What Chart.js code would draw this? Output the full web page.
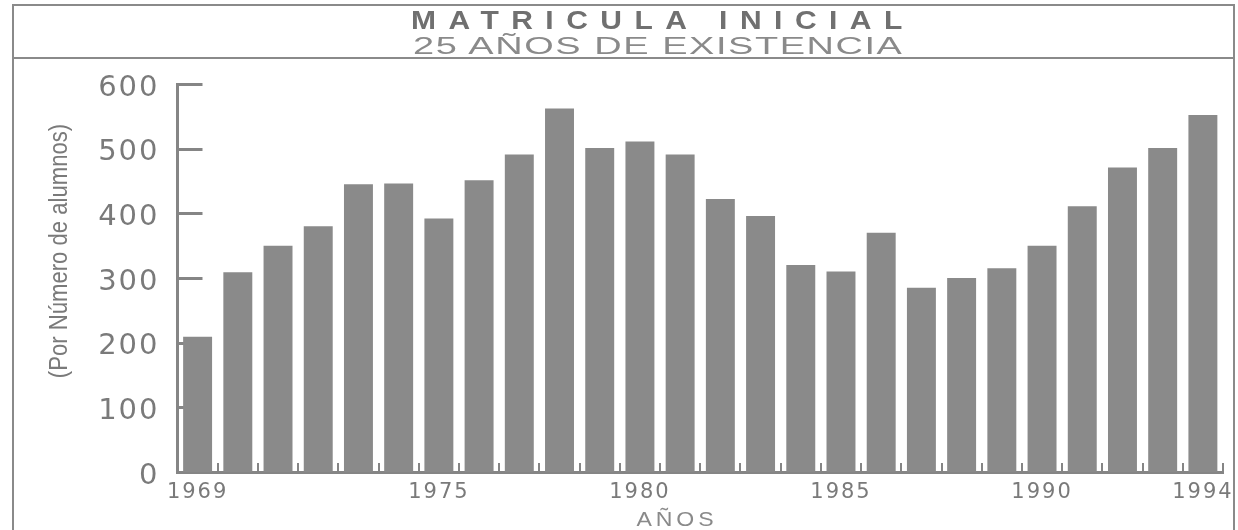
<!DOCTYPE html>
<html>
<head>
<meta charset="utf-8">
<script src="https://cdn.jsdelivr.net/npm/chart.js@4.4.1/dist/chart.umd.min.js"></script>
<style>
  html, body { margin: 0; padding: 0; background: #fff; }
  body { width: 1238px; height: 530px; position: relative; overflow: hidden; }
  #chart { position: absolute; left: 0; top: 0; }
  .frame { position: absolute; left: 12px; top: 4px; width: 1219px; height: 600px;
           border: 2px solid #8a8a8a; pointer-events: none; }
  .divider { position: absolute; left: 12px; top: 57px; width: 1223px; height: 0;
             border-top: 2px solid #8a8a8a; pointer-events: none; }
  .t1, .t2 { position: absolute; left: 0; width: 1316px; text-align: center; line-height: 1;
             font-family: "Liberation Sans", Arial, sans-serif; white-space: nowrap; }
  .t1 span, .t2 span { display: inline-block; transform-origin: 50% 50%; }
  .t1 { top: 8px; font-size: 25px; font-weight: bold; color: #707070; }
  .t1 span { letter-spacing: 10.4px; margin-right: -10.4px; transform: scaleX(1.2); }
  .t2 { top: 34px; font-size: 24px; color: #8a8a8a; }
  .t2 span { letter-spacing: 1px; margin-right: -1px; transform: scaleX(1.58); }
  .ytitle { position: absolute; left: 58px; top: 251px;
            transform: translate(-50%, -50%) rotate(-90deg) scaleX(0.85);
            font-family: "Liberation Sans", Arial, sans-serif; font-size: 26px; color: #7a7a7a;
            white-space: nowrap; line-height: 1; }
  .xtitle { position: absolute; left: 677px; top: 518px; transform: translate(-50%, -50%) scaleX(1.1);
            font-family: "Liberation Sans", Arial, sans-serif; font-size: 21px; color: #8a8a8a;
            letter-spacing: 3.5px; white-space: nowrap; line-height: 1; }
</style>
</head>
<body>
<canvas id="chart" width="1238" height="530"></canvas>
<div class="frame"></div>
<div class="divider"></div>
<div class="t1"><span>MATRICULA INICIAL</span></div>
<div class="t2"><span>25 AÑOS DE EXISTENCIA</span></div>
<div class="ytitle">(Por Número de alumnos)</div>
<div class="xtitle">AÑOS</div>
<script>
// ---- data ----
const years = ['1969','1970','1971','1972','1973','1974','1975','1976','1977','1978','1979','1980','1981',
               '1982','1983','1984','1985','1986','1987','1988','1989','1990','1991','1992','1993','1994'];
const students = [209, 309, 350, 380, 445, 446, 392, 451, 491, 562, 501, 511, 491,
                  422, 396, 320, 310, 370, 285, 300, 315, 350, 411, 471, 501, 552];
const yearTickLabels = ['1969','1975','1980','1985','1990','1994'];
const valueTicks = [0, 100, 200, 300, 400, 500, 600];

const BAR = '#8a8a8a';
const AXIS = '#858585';
const TEXT = '#7a7a7a';

const axisMarks = {
  id: 'axisMarks',
  beforeDraw(chart) {
    chart.ctx.letterSpacing = '2px';
  },
  beforeDatasetsDraw(chart) {
    const { ctx, chartArea, scales: { y } } = chart;
    ctx.save();
    ctx.strokeStyle = AXIS;
    ctx.lineWidth = 3;
    valueTicks.forEach(v => {
      if (v === 0) return;
      const py = Math.round(y.getPixelForValue(v)) + 0.5;
      ctx.beginPath();
      ctx.moveTo(chartArea.left, py);
      ctx.lineTo(chartArea.left + 25, py);
      ctx.stroke();
    });
    ctx.restore();
  },
  afterDatasetsDraw(chart) {
    const { ctx, chartArea, scales: { x } } = chart;
    ctx.save();
    ctx.strokeStyle = AXIS;
    ctx.lineWidth = 2;
    for (let i = 1; i <= years.length; i++) {
      const px = Math.round(x.getPixelForValue(i - 0.5));
      ctx.beginPath();
      ctx.moveTo(px, chartArea.bottom);
      ctx.lineTo(px, chartArea.bottom - 9);
      ctx.stroke();
    }
    ctx.restore();
  },
  afterDraw(chart) {
    chart.ctx.letterSpacing = '0px';
  }
};

new Chart(document.getElementById('chart'), {
  type: 'bar',
  data: {
    labels: years,
    datasets: [{
      data: students,
      backgroundColor: BAR,
      borderWidth: 0,
      barPercentage: 0.72,
      categoryPercentage: 1.0
    }]
  },
  options: {
    responsive: false,
    animation: false,
    layout: { padding: { left: 14, right: 15, top: 84, bottom: 0 } },
    plugins: { legend: { display: false }, tooltip: { enabled: false }, title: { display: false } },
    scales: {
      x: {
        offset: true,
        grid: { display: false, drawTicks: false },
        border: { display: true, color: AXIS, width: 3 },
        ticks: {
          autoSkip: false, maxRotation: 0, minRotation: 0, padding: 8,
          color: TEXT, font: { family: 'DejaVu Sans', size: 21 },
          callback: (v, i) => yearTickLabels.includes(years[i]) ? years[i] : ''
        },
        afterFit: s => { s.height = 58; }
      },
      y: {
        min: 0, max: 600,
        grid: { display: false, drawTicks: false },
        border: { display: true, color: AXIS, width: 3 },
        ticks: {
          stepSize: 100, padding: 18, color: TEXT, labelOffset: 4,
          font: { family: 'DejaVu Sans', size: 29 }
        },
        afterFit: s => { s.width = 163.5; }
      }
    }
  },
  plugins: [axisMarks]
});
</script>
</body>
</html>
